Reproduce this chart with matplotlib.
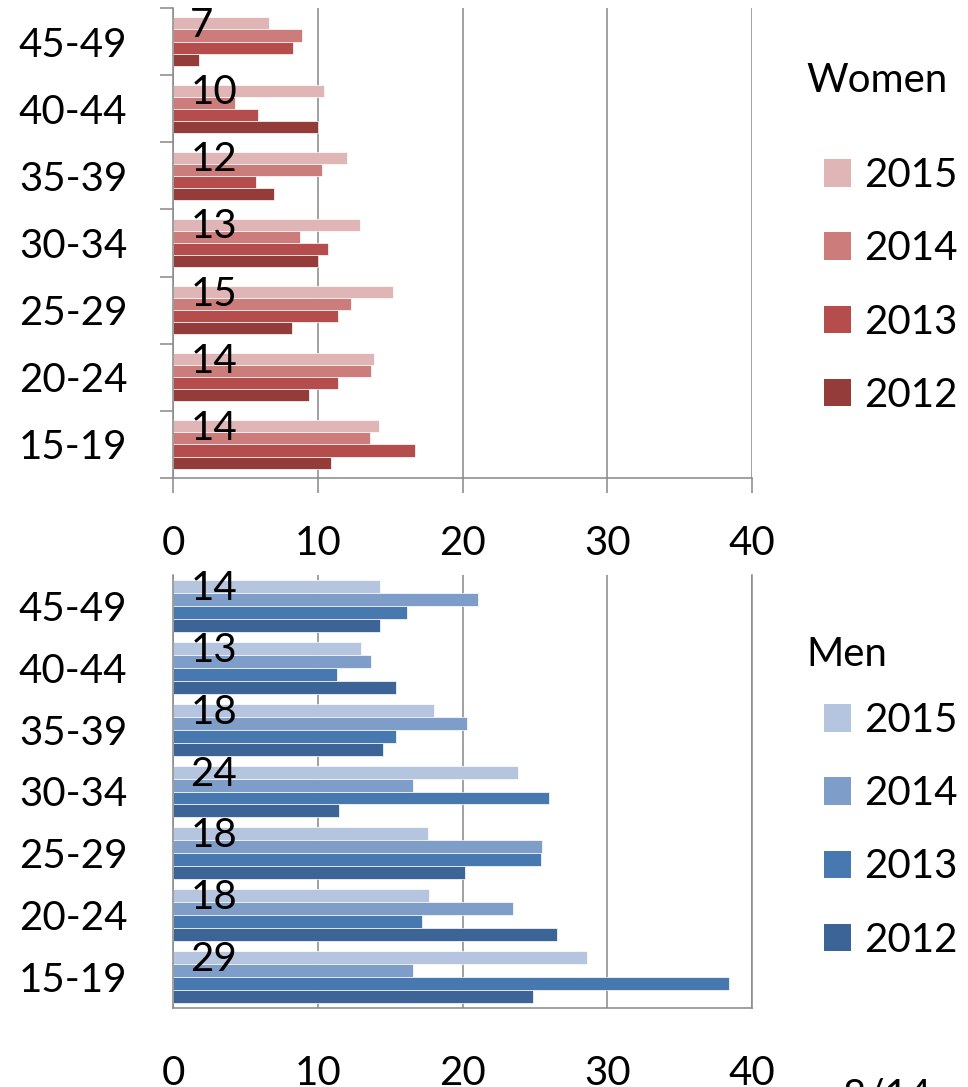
import matplotlib
matplotlib.use('Agg')
import matplotlib.pyplot as plt
from matplotlib.patches import Patch
import numpy as np

plt.rcParams['font.family'] = ['Lato', 'DejaVu Sans']

ages = ['15-19', '20-24', '25-29', '30-34', '35-39', '40-44', '45-49']
years = ['2015', '2014', '2013', '2012']

# women, per age group (15-19 first)
women_2015 = [14.2, 13.9, 15.2, 12.9, 12.0, 10.4, 6.6]
women_2014 = [13.6, 13.7, 12.3, 8.8, 10.3, 4.3, 8.9]
women_2013 = [16.7, 11.4, 11.4, 10.7, 5.7, 5.9, 8.3]
women_2012 = [10.9, 9.4, 8.2, 10.0, 7.0, 10.0, 1.8]

# men, per age group (15-19 first)
men_2015 = [28.6, 17.7, 17.6, 23.8, 18.0, 13.0, 14.3]
men_2014 = [16.6, 23.5, 25.5, 16.6, 20.3, 13.7, 21.1]
men_2013 = [38.4, 17.2, 25.4, 26.0, 15.4, 11.3, 16.2]
men_2012 = [24.9, 26.5, 20.2, 11.5, 14.5, 15.4, 14.3]

women_colors = ['#DFB6B5', '#CC7C7A', '#B44D4B', '#943C3A']
men_colors = ['#B5C4DF', '#7F9DC9', '#4878B0', '#3C6496']

W, H = 968, 1087
FS = 29
GRAY = '#888888'


def draw(ax, series, colors, h):
    y = np.arange(len(ages))
    offs = [1.5 * h, 0.5 * h, -0.5 * h, -1.5 * h]
    for vals, c, off in zip(series, colors, offs):
        ax.barh(y + off, vals, height=h, color=c, edgecolor='white', linewidth=0.5, zorder=2)
    # value labels of the 2015 series, at the base of the bar
    for yi, v in zip(y, series[0]):
        ax.annotate(f'{v:.0f}', xy=(0, yi + offs[0]), xytext=(12.5, -1.5),
                    textcoords='offset points', ha='left', va='center',
                    fontsize=FS, zorder=3)
    ax.set_xlim(0, 40)
    ax.set_ylim(-0.5, len(ages) - 0.5)
    ax.set_xticks([0, 10, 20, 30, 40])
    ax.set_yticks(y)
    ax.set_yticklabels(ages)
    ax.xaxis.grid(True, color=GRAY, linewidth=1.1, zorder=0)
    ax.set_axisbelow(True)
    ax.spines['top'].set_visible(False)
    for s in ax.spines.values():
        s.set_color(GRAY)
        s.set_linewidth(1.1)
    ax.tick_params(axis='both', labelsize=FS, colors=GRAY, labelcolor='black', width=1.1)
    ax.tick_params(axis='y', length=0, pad=33)


fig = plt.figure(figsize=(W / 100, H / 100), dpi=100)

ax1 = fig.add_axes([173 / W, 1 - 478 / H, 579 / W, 470 / H])
draw(ax1, [women_2015, women_2014, women_2013, women_2012], women_colors, 0.18)
ax1.spines['right'].set_visible(False)
ax1.set_yticks(np.arange(-0.5, len(ages)), minor=True)
ax1.tick_params(axis='y', which='minor', length=9.4, color=GRAY, width=1.1)
ax1.tick_params(axis='x', length=10.8, pad=23)

ax2 = fig.add_axes([173 / W, 1 - 1008 / H, 579 / W, 433 / H])
draw(ax2, [men_2015, men_2014, men_2013, men_2012], men_colors, 0.21)
ax2.tick_params(axis='x', length=0, pad=34)

# legends
fig.text(806 / W, 1 - 80 / H, 'Women', ha='left', va='center', fontsize=FS)
fig.text(806 / W, 1 - 655 / H, 'Men', ha='left', va='center', fontsize=FS)

for colors, top in [(women_colors, 157), (men_colors, 702)]:
    handles = [Patch(facecolor=c) for c in colors]
    fig.legend(handles, years, loc='upper left', bbox_to_anchor=(824 / W, 1 - top / H),
               frameon=False, fontsize=FS, borderpad=0, borderaxespad=0,
               handlelength=0.67, handleheight=0.67, handletextpad=0.33,
               labelspacing=0.9)

fig.text(843 / W, 1 - 1078 / H, '8/14', ha='left', va='top', fontsize=FS)

fig.savefig('out.png', dpi=100)
